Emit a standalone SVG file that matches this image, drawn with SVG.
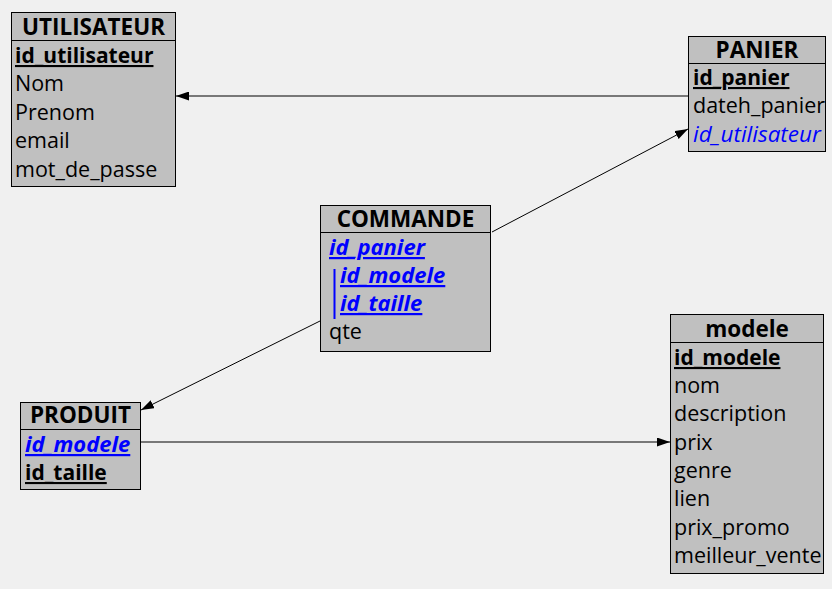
<svg xmlns="http://www.w3.org/2000/svg" width="832" height="589" viewBox="0 0 832 589">
<style>
.box{fill:#c0c0c0;stroke:#000;stroke-width:1}
.sep{stroke:#000;stroke-width:1}
.t{font-family:"Open Sans","Noto Sans",sans-serif;font-size:22.5px;font-weight:bold;fill:#000;text-anchor:middle}
.f{font-family:"Open Sans","Noto Sans",sans-serif;font-size:21.5px;fill:#000}
.pk{font-weight:bold;text-decoration:underline;font-size:21px}
.fk{fill:#0000ff;font-style:italic;font-size:22.5px}
.pk.fk{font-size:22px}
.c{stroke:#000;stroke-width:1;fill:none;marker-end:url(#a)}
</style>
<defs>
<marker id="a" viewBox="0 0 13 9" refX="13" refY="4.5" markerWidth="13" markerHeight="9" markerUnits="userSpaceOnUse" orient="auto">
<path d="M0,0 L13,4.5 L0,9 Z" fill="#000"/>
</marker>
</defs>
<rect width="832" height="589" fill="#f0f0f0"/>
<g id="connectors">
<line class="c" x1="688" y1="96" x2="176" y2="96"/>
<line class="c" x1="492" y1="232" x2="688" y2="129"/>
<line class="c" x1="320" y1="321" x2="141" y2="410"/>
<line class="c" x1="141" y1="442" x2="670" y2="442"/>
</g>
<g id="utilisateur">
<rect class="box" x="11.5" y="12.5" width="164" height="174"/>
<line class="sep" x1="11.5" y1="40.5" x2="175.5" y2="40.5"/>
<text class="t" x="93.5" y="35">UTILISATEUR</text>
<text class="f pk" x="15" y="63">id_utilisateur</text>
<text class="f" x="15" y="91">Nom</text>
<text class="f" x="15" y="120">Prenom</text>
<text class="f" x="15" y="148">email</text>
<text class="f" x="15" y="177">mot_de_passe</text>
</g>
<g id="panier">
<rect class="box" x="688.5" y="36.5" width="137" height="115"/>
<line class="sep" x1="688.5" y1="63.5" x2="825.5" y2="63.5"/>
<text class="t" x="757" y="58">PANIER</text>
<text class="f pk" x="693" y="85">id_panier</text>
<text class="f" x="693" y="113">dateh_panier</text>
<text class="f fk" x="693" y="142">id_utilisateur</text>
</g>
<g id="commande">
<rect class="box" x="320.5" y="205.5" width="170" height="146"/>
<line class="sep" x1="320.5" y1="232.5" x2="490.5" y2="232.5"/>
<text class="t" x="405.5" y="227">COMMANDE</text>
<text class="f pk fk" x="329" y="255">id_panier</text>
<line x1="334.5" y1="269" x2="334.5" y2="319" stroke="#0000ff" stroke-width="2"/>
<text class="f pk fk" x="340" y="283">id_modele</text>
<text class="f pk fk" x="340" y="311">id_taille</text>
<text class="f" x="329" y="339">qte</text>
</g>
<g id="produit">
<rect class="box" x="20.5" y="402.5" width="120" height="87"/>
<line class="sep" x1="20.5" y1="429.5" x2="140.5" y2="429.5"/>
<text class="t" x="80.5" y="423">PRODUIT</text>
<text class="f pk fk" x="25" y="452">id_modele</text>
<text class="f pk" x="25" y="480">id_taille</text>
</g>
<g id="modele">
<rect class="box" x="670.5" y="314.5" width="153" height="259"/>
<line class="sep" x1="670.5" y1="342.5" x2="823.5" y2="342.5"/>
<text class="t" x="747" y="337">modele</text>
<text class="f pk" x="674" y="365">id_modele</text>
<text class="f" x="674" y="393">nom</text>
<text class="f" x="674" y="421">description</text>
<text class="f" x="674" y="450">prix</text>
<text class="f" x="674" y="478">genre</text>
<text class="f" x="674" y="506">lien</text>
<text class="f" x="674" y="535">prix_promo</text>
<text class="f" x="674" y="563">meilleur_vente</text>
</g>
</svg>
